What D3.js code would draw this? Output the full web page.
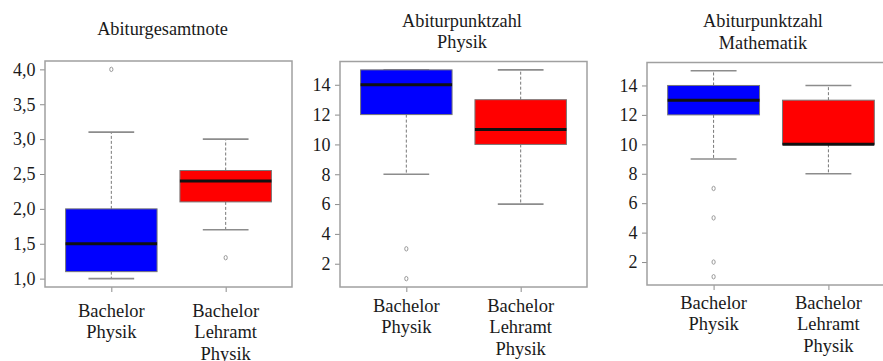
<!DOCTYPE html>
<html><head><meta charset="utf-8">
<script src="https://cdn.jsdelivr.net/npm/d3@7"></script>
<style>
html,body{margin:0;padding:0;background:#fff;}
svg text{font-family:'Liberation Serif','Times New Roman','DejaVu Serif',serif !important;}
</style></head>
<body><svg id="c" width="883" height="361"></svg>
<script>
// ---- data ----
const categories = [["Bachelor","Physik"],["Bachelor","Lehramt","Physik"]];
const titles = [["Abiturgesamtnote"],["Abiturpunktzahl","Physik"],["Abiturpunktzahl","Mathematik"]];
const colors = ["#0000ff","#ff0000"];
// [lower whisker, Q1, median, Q3, upper whisker]
const noteStats   = [[1.0,1.1,1.5,2.0,3.1],[1.7,2.1,2.4,2.55,3.0]];
const noteOutliers = [[4.0],[1.3]];
const noteTicks = [1.0,1.5,2.0,2.5,3.0,3.5,4.0];
const physStats   = [[8,12,14,15,15],[6,10,11,13,15]];
const physOutliers = [[3,1],[]];
const mathStats   = [[9,12,13,14,15],[8,10,10,13,14]];
const mathOutliers = [[7,5,2,1],[]];
const pointTicks = [2,4,6,8,10,12,14];

const FONT = "'Liberation Serif','Times New Roman',serif";
const panels = [
  {stats:noteStats, outs:noteOutliers, ticks:noteTicks, fmt:d=>d3.format(".1f")(d).replace(".",","),
   L:45,R:292,T:61,B:287, tx:162.5, ty:[35], lab:316.5},
  {stats:physStats, outs:physOutliers, ticks:pointTicks, fmt:d=>String(d),
   L:340,R:587,T:61.5,B:287, tx:462, ty:[26.5,48], lab:311.5},
  {stats:mathStats, outs:mathOutliers, ticks:pointTicks, fmt:d=>String(d),
   L:647,R:895,T:62.5,B:285, tx:763, ty:[26.5,48.5], lab:308.5},
];

const svg = d3.select("#c");
const grey = "#8c8c8c";

panels.forEach((p,pi)=>{
  const all = p.stats.flat().concat(p.outs.flat());
  const lo = d3.min(all), hi = d3.max(all), ext = (hi-lo)*0.04;
  const y = d3.scaleLinear().domain([lo-ext, hi+ext]).range([p.B, p.T]);
  const x = d3.scaleLinear().domain([0.42, 2.58]).range([p.L, p.R]);
  const g = svg.append("g");

  titles[pi].forEach((t,i)=>{
    g.append("text").attr("x",p.tx).attr("y",p.ty[i]).attr("text-anchor","middle")
     .attr("font-family",FONT).attr("font-size","18.3px").attr("fill","#1a1a1a").text(t);
  });

  const ya = d3.axisLeft(y).tickValues(p.ticks).tickFormat(p.fmt).tickSize(5).tickPadding(4.5);
  const yg = g.append("g").attr("transform",`translate(${p.L},0)`).call(ya);
  yg.attr("font-family",FONT);
  yg.select(".domain").remove();
  yg.selectAll("line").attr("stroke",grey);
  yg.selectAll("text").attr("font-size","18px").attr("fill","#1a1a1a").attr("font-family",FONT);

  const xa = d3.axisBottom(x).tickValues([1,2]).tickFormat("").tickSize(5);
  const xg = g.append("g").attr("transform",`translate(0,${p.B})`).call(xa);
  xg.select(".domain").remove();
  xg.selectAll("line").attr("stroke",grey);

  categories.forEach((lines,ci)=>{
    lines.forEach((t,li)=>{
      g.append("text").attr("x",x(ci+1)).attr("y",p.lab+li*21.5).attr("text-anchor","middle")
       .attr("font-family",FONT).attr("font-size","18.5px").attr("fill","#1a1a1a").text(t);
    });
  });

  const bw = x(1.4)-x(1), cw = x(1.2)-x(1);
  p.stats.forEach((s,ci)=>{
    const cx = x(ci+1);
    const [wl,q1,md,q3,wh] = s;
    g.append("line").attr("x1",cx).attr("x2",cx).attr("y1",y(q3)).attr("y2",y(wh))
      .attr("stroke","#777").attr("stroke-width",1).attr("stroke-dasharray","3,2");
    g.append("line").attr("x1",cx).attr("x2",cx).attr("y1",y(q1)).attr("y2",y(wl))
      .attr("stroke","#777").attr("stroke-width",1).attr("stroke-dasharray","3,2");
    [wl,wh].forEach(v=>{
      g.append("line").attr("x1",cx-cw).attr("x2",cx+cw).attr("y1",y(v)).attr("y2",y(v))
       .attr("stroke",grey).attr("stroke-width",1.6);
    });
    g.append("rect").attr("x",cx-bw).attr("width",2*bw).attr("y",y(q3)).attr("height",y(q1)-y(q3))
      .attr("fill",colors[ci]).attr("stroke","#777").attr("stroke-width",1);
    g.append("line").attr("x1",cx-bw).attr("x2",cx+bw).attr("y1",y(md)).attr("y2",y(md))
      .attr("stroke","#111").attr("stroke-width",3);
    p.outs[ci].forEach(v=>{
      g.append("ellipse").attr("cx",cx).attr("cy",y(v)).attr("rx",1.6).attr("ry",2.2)
       .attr("fill","none").attr("stroke","#999").attr("stroke-width",1);
    });
  });

  g.append("rect").attr("x",p.L).attr("y",p.T).attr("width",p.R-p.L).attr("height",p.B-p.T)
    .attr("fill","none").attr("stroke","#a0a0a0").attr("stroke-width",1.5);
});
</script></body></html>
